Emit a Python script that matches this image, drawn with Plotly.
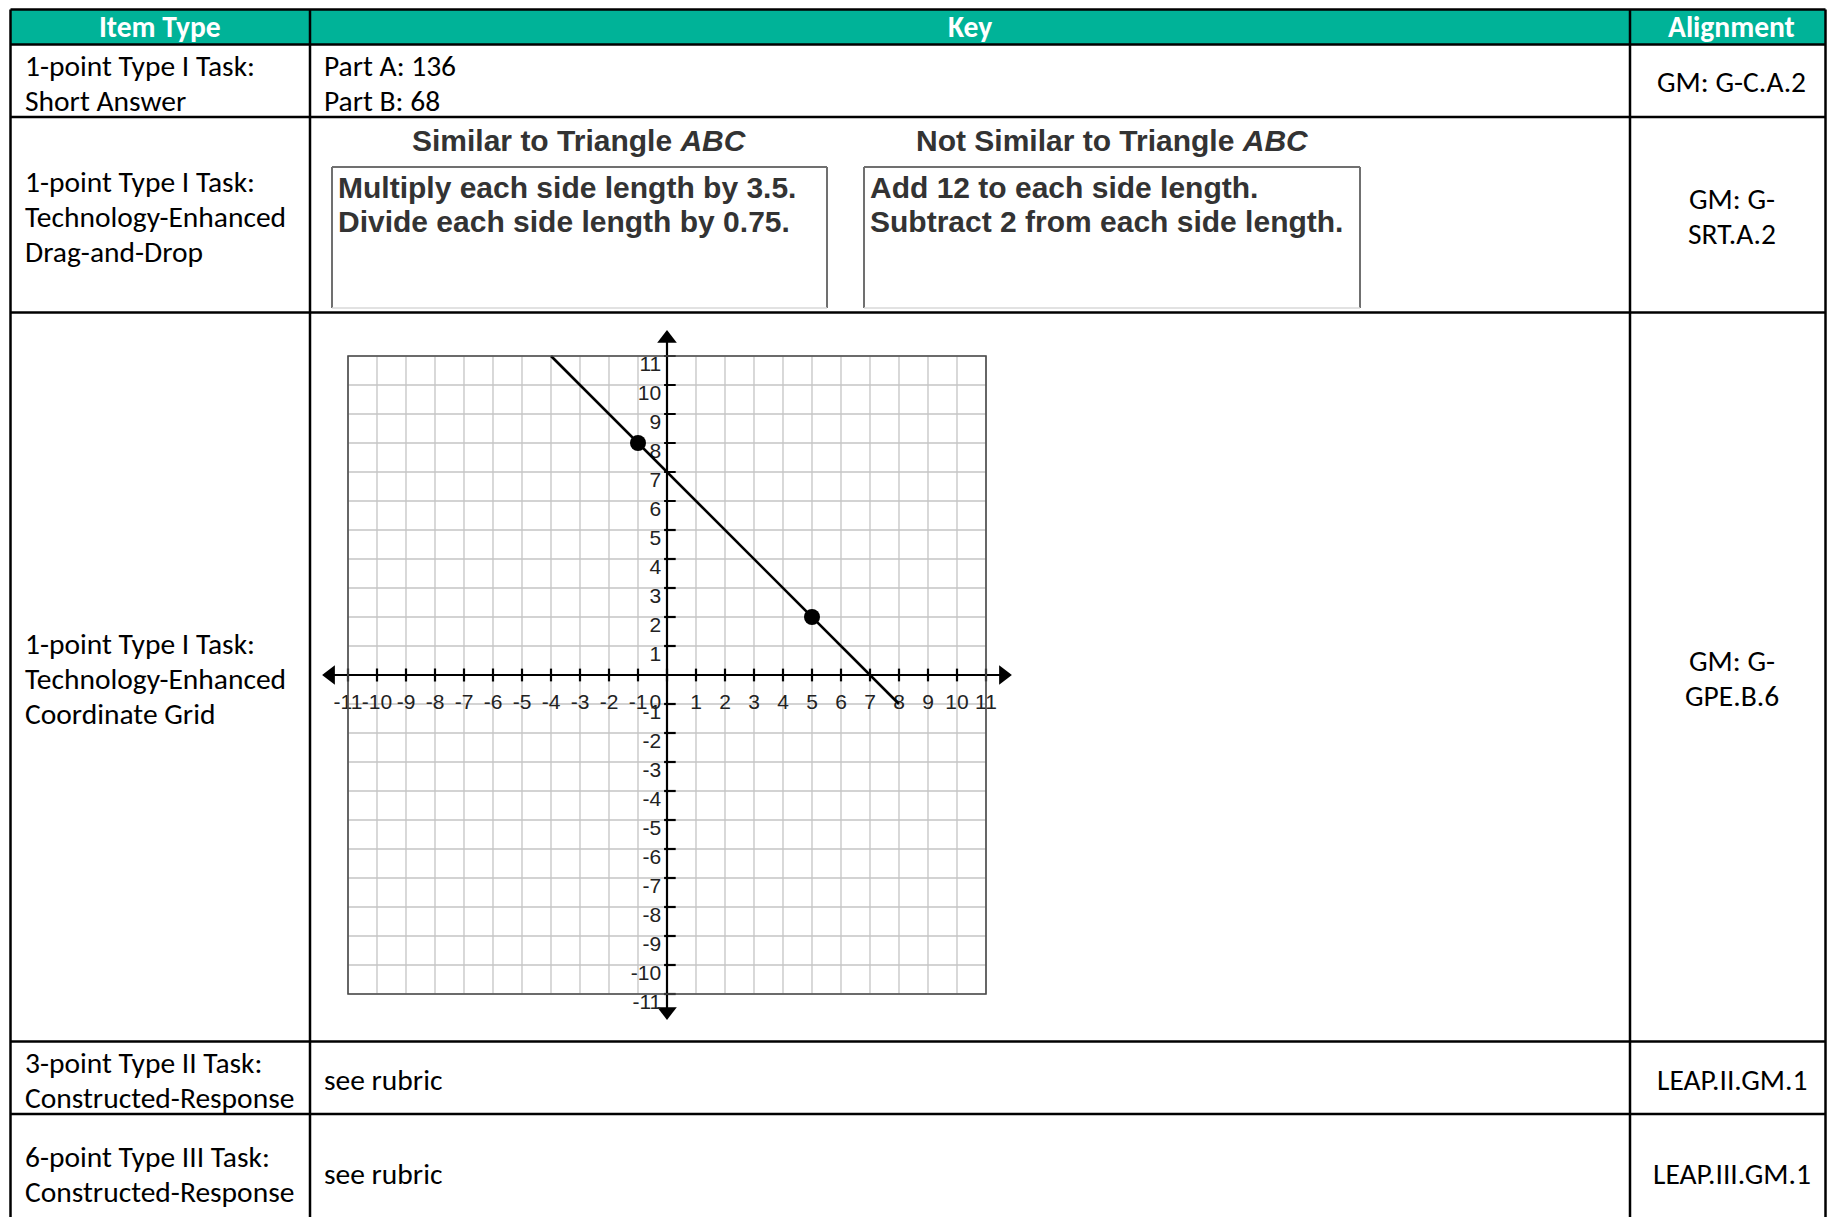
import plotly.graph_objects as go

W, H = 1835, 1225
OFF = 8  # page body margin of the html file
FIG_W, FIG_H = W - 2 * OFF, H - 2 * OFF

# ---- table content ----
HEADERS = ["Item Type", "Key", "Alignment"]
ITEM_TYPES = [
    ["1-point Type I Task:", "Short Answer"],
    ["1-point Type I Task:", "Technology-Enhanced", "Drag-and-Drop"],
    ["1-point Type I Task:", "Technology-Enhanced", "Coordinate Grid"],
    ["3-point Type II Task:", "Constructed-Response"],
    ["6-point Type III Task:", "Constructed-Response"],
]
KEY_ROW1 = ["Part A: 136", "Part B: 68"]
KEY_RUBRIC = ["see rubric", "see rubric"]
ALIGNMENTS = [
    ["GM: G-C.A.2"],
    ["GM: G-", "SRT.A.2"],
    ["GM: G-", "GPE.B.6"],
    ["LEAP.II.GM.1"],
    ["LEAP.III.GM.1"],
]
DD_TITLES = ["<b>Similar to Triangle <i>ABC</i></b>", "<b>Not Similar to Triangle <i>ABC</i></b>"]
DD_SIMILAR = ["Multiply each side length by 3.5.", "Divide each side length by 0.75."]
DD_NOT_SIMILAR = ["Add 12 to each side length.", "Subtract 2 from each side length."]

# ---- coordinate grid content ----
GRID_VALUES = list(range(-11, 12))
X_TICK_LABELS = [str(v) for v in GRID_VALUES]
Y_TICK_VALUES = [v for v in GRID_VALUES if v != 0]
Y_TICK_LABELS = [str(v) for v in Y_TICK_VALUES]
LINE_X = [-4, 8]
LINE_Y = [11, -1]
POINTS_X = [-1, 5]
POINTS_Y = [8, 2]

# ---- layout geometry (page pixels) ----
COL_X = [10.5, 310, 1630, 1833]
HEADER_TOP = 9.5
ROW_Y = [44.5, 117, 312.5, 1041.6, 1114, 1240]
TEAL = "#00B398"
BODY_FONT = "Carlito, Lato, sans-serif"
BODY_SIZE = 29.5
DD_FONT = "Liberation Sans, Arial"
DD_SIZE = 30
GRID_FONT = "Liberation Sans, Arial"

ORIGIN = (667, 675)
UNIT = 29.0
HALF = 12.5

fig = go.Figure()

# page axis: pixel coordinates of the browser page
fig.update_layout(
    xaxis=dict(range=[OFF, OFF + FIG_W], domain=[0, 1], visible=False, fixedrange=True),
    yaxis=dict(range=[OFF + FIG_H, OFF], domain=[0, 1], visible=False, fixedrange=True),
)

# grid axis placed over the third row
gx0 = (ORIGIN[0] - HALF * UNIT - OFF) / FIG_W
gx1 = (ORIGIN[0] + HALF * UNIT - OFF) / FIG_W
gy0 = 1 - (ORIGIN[1] + HALF * UNIT - OFF) / FIG_H
gy1 = 1 - (ORIGIN[1] - HALF * UNIT - OFF) / FIG_H
fig.update_layout(
    xaxis2=dict(range=[-HALF, HALF], domain=[gx0, gx1], anchor="y2", visible=False, fixedrange=True),
    yaxis2=dict(range=[-HALF, HALF], domain=[gy0, gy1], anchor="x2", visible=False, fixedrange=True),
)

shapes = []
annotations = []
edge_x = OFF + FIG_W - 1.5  # last column line, kept inside the figure

# header
shapes.append(dict(type="rect", xref="x", yref="y", x0=COL_X[0], x1=edge_x,
                   y0=HEADER_TOP, y1=ROW_Y[0], fillcolor=TEAL, line=dict(width=0), layer="below"))
for i, h in enumerate(HEADERS):
    annotations.append(dict(x=(COL_X[i] + COL_X[i + 1]) / 2, y=(HEADER_TOP + ROW_Y[0]) / 2,
                            xref="x", yref="y", text=f"<b>{h}</b>", showarrow=False,
                            font=dict(family=BODY_FONT, size=BODY_SIZE, color="white")))

# table lines
for y in [HEADER_TOP] + ROW_Y[:-1]:
    shapes.append(dict(type="line", xref="x", yref="y", x0=COL_X[0], x1=edge_x, y0=y, y1=y,
                       line=dict(color="black", width=2.5)))
for x in COL_X[:-1] + [edge_x]:
    shapes.append(dict(type="line", xref="x", yref="y", x0=x, x1=x, y0=HEADER_TOP, y1=H,
                       line=dict(color="black", width=2.5)))

LINE_GAP = 35
def add_lines(lines, x, yc, anchor, color="black", family=BODY_FONT, size=BODY_SIZE):
    n = len(lines)
    for k, t in enumerate(lines):
        annotations.append(dict(x=x, y=yc + (k - (n - 1) / 2) * LINE_GAP, xref="x", yref="y",
                                text=t, showarrow=False, xanchor=anchor,
                                font=dict(family=family, size=size, color=color)))

ROW_TEXT_Y = [83, 216.5, 678.8, 1080, 1174]
ALIGN_TEXT_Y = [82, 216.5, 678.5, 1080, 1174]
for r in range(5):
    add_lines(ITEM_TYPES[r], COL_X[0] + 12, ROW_TEXT_Y[r], "left")
    add_lines(ALIGNMENTS[r], (COL_X[2] + COL_X[3]) / 2, ALIGN_TEXT_Y[r], "center")

add_lines(KEY_ROW1, COL_X[1] + 12, 83, "left")
add_lines([KEY_RUBRIC[0]], COL_X[1] + 12, 1080, "left")
add_lines([KEY_RUBRIC[1]], COL_X[1] + 12, 1174, "left")

# drag-and-drop boxes
DD_BOXES = [(332, 827), (864, 1360)]
for (bx0, bx1), title, items in zip(DD_BOXES, DD_TITLES, [DD_SIMILAR, DD_NOT_SIMILAR]):
    annotations.append(dict(x=(bx0 + bx1) / 2, y=140, xref="x", yref="y", text=title,
                            showarrow=False, font=dict(family=DD_FONT, size=DD_SIZE, color="#333")))
    for x0, y0, x1, y1 in [(bx0, 167, bx0, 308), (bx0, 167, bx1, 167), (bx1, 167, bx1, 308)]:
        shapes.append(dict(type="line", xref="x", yref="y", x0=x0, x1=x1, y0=y0, y1=y1,
                           line=dict(color="#707070", width=2)))
    shapes.append(dict(type="line", xref="x", yref="y", x0=bx0, x1=bx1, y0=308, y1=308,
                       line=dict(color="#d8d8d8", width=1.5)))
    for k, t in enumerate(items):
        annotations.append(dict(x=bx0 + 4, y=187 + 34 * k, xref="x", yref="y", text=f"<b>{t}</b>",
                                showarrow=False, xanchor="left",
                                font=dict(family=DD_FONT, size=DD_SIZE, color="#333")))

# ---- coordinate grid ----
lo, hi = GRID_VALUES[0], GRID_VALUES[-1]
gx, gy = [], []
for v in GRID_VALUES:
    gx += [v, v, None, lo, hi, None]
    gy += [lo, hi, None, v, v, None]
fig.add_trace(go.Scatter(x=gx, y=gy, xaxis="x2", yaxis="y2", mode="lines",
                         line=dict(color="#c4c4c4", width=1.3), hoverinfo="skip", showlegend=False))
shapes.append(dict(type="rect", xref="x2", yref="y2", x0=lo, x1=hi, y0=lo, y1=hi,
                   line=dict(color="#4a4a4a", width=1.6)))

# axes with arrows
AX_END = 11.6
fig.add_trace(go.Scatter(x=[-AX_END, AX_END, None, 0, 0], y=[0, 0, None, -AX_END, AX_END],
                         xaxis="x2", yaxis="y2", mode="lines", line=dict(color="black", width=2.2),
                         hoverinfo="skip", showlegend=False))
fig.add_trace(go.Scatter(x=[-AX_END, AX_END, 0, 0], y=[0, 0, AX_END, -AX_END], xaxis="x2", yaxis="y2",
                         mode="markers", cliponaxis=False,
                         marker=dict(symbol=["triangle-left", "triangle-right", "triangle-up", "triangle-down"],
                                     size=17, color="black", line=dict(width=0)),
                         hoverinfo="skip", showlegend=False))

# tick marks
tx, ty = [], []
for v in GRID_VALUES:
    tx += [v, v, None]
    ty += [-0.22, 0.22, None]
for v in Y_TICK_VALUES:
    tx += [-0.1, 0.3, None]
    ty += [v, v, None]
fig.add_trace(go.Scatter(x=tx, y=ty, xaxis="x2", yaxis="y2", mode="lines",
                         line=dict(color="black", width=2.2), hoverinfo="skip", showlegend=False))

# tick labels
label_x = [v if v != 0 else -0.4 for v in GRID_VALUES]
fig.add_trace(go.Scatter(x=label_x, y=[-0.98] * len(GRID_VALUES), xaxis="x2", yaxis="y2",
                         mode="text", text=X_TICK_LABELS, textposition="middle center",
                         textfont=dict(family=GRID_FONT, size=21, color="#222"),
                         hoverinfo="skip", showlegend=False, cliponaxis=False))
fig.add_trace(go.Scatter(x=[-0.2] * len(Y_TICK_VALUES), y=[v - 0.32 for v in Y_TICK_VALUES],
                         xaxis="x2", yaxis="y2", mode="text", text=Y_TICK_LABELS,
                         textposition="middle left",
                         textfont=dict(family=GRID_FONT, size=21, color="#222"),
                         hoverinfo="skip", showlegend=False, cliponaxis=False))

# line and points
fig.add_trace(go.Scatter(x=LINE_X, y=LINE_Y, xaxis="x2", yaxis="y2", mode="lines",
                         line=dict(color="black", width=2.6), hoverinfo="skip", showlegend=False))
fig.add_trace(go.Scatter(x=POINTS_X, y=POINTS_Y, xaxis="x2", yaxis="y2", mode="markers",
                         marker=dict(size=16, color="black"), hoverinfo="skip", showlegend=False))

fig.update_layout(
    width=FIG_W, height=FIG_H,
    margin=dict(l=0, r=0, t=0, b=0),
    paper_bgcolor="white",
    plot_bgcolor="rgba(0,0,0,0)",
    shapes=shapes,
    annotations=annotations,
    showlegend=False,
)

fig.write_html("out.html", config=dict(displayModeBar=False))
